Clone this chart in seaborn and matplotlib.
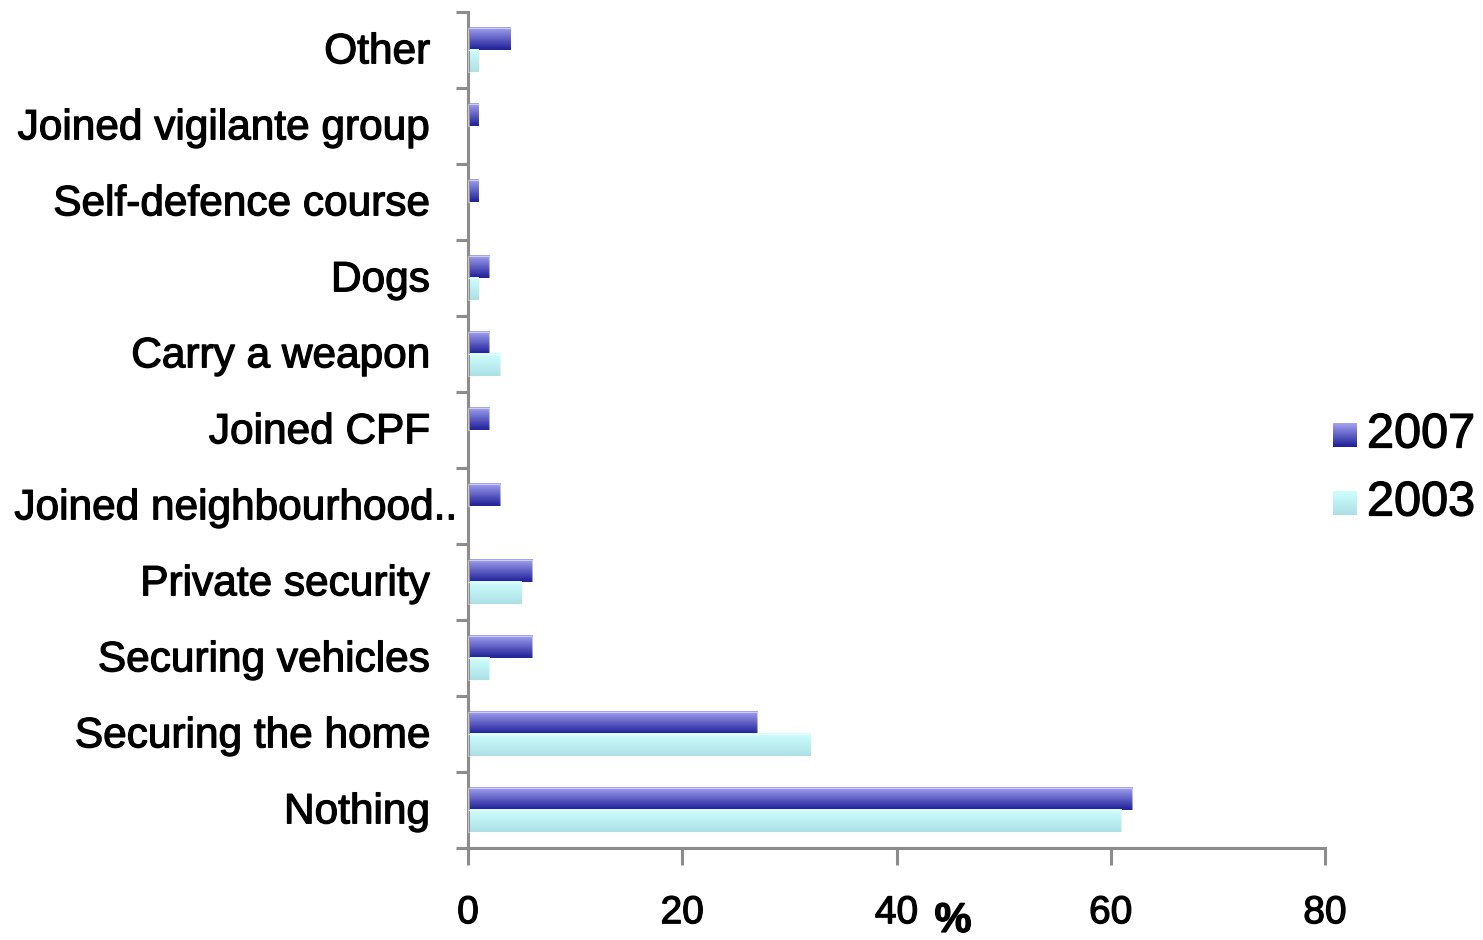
import matplotlib
matplotlib.use("Agg")
import matplotlib.pyplot as plt
import matplotlib.patheffects as pe
import matplotlib.transforms as mtransforms
import numpy as np
import pandas as pd
import seaborn as sns
from matplotlib.colors import LinearSegmentedColormap
from matplotlib.ticker import FixedLocator

categories = [
    "Other",
    "Joined vigilante group",
    "Self-defence course",
    "Dogs",
    "Carry a weapon",
    "Joined CPF",
    "Joined neighbourhood..",
    "Private security",
    "Securing vehicles",
    "Securing the home",
    "Nothing",
]
values_2007 = [4, 1, 1, 2, 2, 2, 3, 6, 6, 27, 62]
values_2003 = [1, 0, 0, 1, 3, 0, 0, 5, 2, 32, 61]
years = ["2007", "2003"]
x_ticks = [0, 20, 40, 60, 80]

df = pd.DataFrame({
    "category": categories * 2,
    "value": values_2007 + values_2003,
    "year": ["2007"] * len(categories) + ["2003"] * len(categories),
})

sns.set_theme(style="white")
plt.rcParams["font.family"] = ["Liberation Sans", "DejaVu Sans"]
plt.rcParams["text.color"] = "black"
plt.rcParams["xtick.color"] = "black"
plt.rcParams["ytick.color"] = "black"

heavy = [pe.withStroke(linewidth=0.9, foreground="black")]

fig = plt.figure(figsize=(14.83, 9.40), dpi=100)
ax = fig.add_axes([468 / 1483, 1 - 848 / 940, (1325 - 468) / 1483, (848 - 12) / 940])

grad = {
    "2007": ("#a3a3f2", "#1e1e98"),
    "2003": ("#ceffff", "#ade0e5"),
}
solid = {"2007": "#5a5ac8", "2003": "#bff0f2"}

sns.barplot(data=df, y="category", x="value", hue="year", order=categories,
            hue_order=years, palette=solid, orient="h", width=0.58, gap=0,
            ax=ax, legend=False, saturation=1)

ax.set_xlim(0, 80)
ax.set_ylim(len(categories) - 0.5, -0.5)

# Paint each bar with a vertical light-to-dark gradient
for container, yr in zip(ax.containers, years):
    cmap = LinearSegmentedColormap.from_list(yr, grad[yr])
    g = np.linspace(0, 1, 64).reshape(-1, 1)
    for bar in container:
        w = bar.get_width()
        if w <= 0:
            bar.set_visible(False)
            continue
        x0, y0, h = bar.get_x(), bar.get_y(), bar.get_height()
        ax.imshow(g, cmap=cmap, aspect="auto", origin="upper",
                  extent=(x0, x0 + w, y0 + h, y0), zorder=2,
                  interpolation="bilinear")
        bar.set_facecolor("none")
        bar.set_edgecolor((1, 1, 1, 0.5))
        bar.set_linewidth(0.8)
        bar.set_zorder(3)

ax.set_xlim(0, 80)
ax.set_ylim(len(categories) - 0.5, -0.5)

# Axis styling
spine_col = "#8c8c8c"
for side in ["top", "right"]:
    ax.spines[side].set_visible(False)
for side in ["left", "bottom"]:
    ax.spines[side].set_color(spine_col)
    ax.spines[side].set_linewidth(2.2)

ax.set_xticks(x_ticks)
ax.set_xticklabels([str(t) for t in x_ticks], fontsize=28)
ax.tick_params(axis="x", direction="out", length=12, width=2.2, color=spine_col,
               pad=22, bottom=True, labelcolor="black")

# Category labels: right-aligned left of the axis; the truncated one overhangs
ax.set_yticks(range(len(categories)))
ax.set_yticklabels([])
ax.tick_params(axis="y", which="major", length=0)
ax.yaxis.set_minor_locator(FixedLocator(np.arange(-0.5, len(categories), 1.0)))
ax.tick_params(axis="y", which="minor", direction="out", length=9, width=2.2,
               color=spine_col, left=True)
lab_trans = mtransforms.blended_transform_factory(fig.transFigure, ax.transData)
for i, cat in enumerate(categories):
    right = 457 if cat.endswith("..") else 430
    fig.text(right / 1483, i + 0.175, cat, transform=lab_trans, fontsize=30.5,
             ha="right", va="baseline", path_effects=heavy)

for lab in ax.get_xticklabels():
    lab.set_path_effects(heavy)
ax.set_xlabel("")
ax.set_ylabel("")
ax.grid(False)

fig.text(953 / 1483, 1 - 901 / 940, "%", fontsize=30, ha="center", va="top",
         fontweight="bold", path_effects=heavy)

# Legend with gradient swatches
leg_x = 1333 / 1483
sw_w = 24 / 1483
sw_h = 24 / 940
for i, yr in enumerate(years):
    yc = 1 - (435 + 68 * i) / 940
    cmap = LinearSegmentedColormap.from_list(yr + "_leg", grad[yr])
    sax = fig.add_axes([leg_x, yc - sw_h / 2, sw_w, sw_h])
    sax.imshow(np.linspace(0, 1, 32).reshape(-1, 1), cmap=cmap, aspect="auto",
               interpolation="bilinear")
    sax.axis("off")
    fig.text(1367 / 1483, yc, yr, fontsize=35, ha="left", va="center",
             path_effects=heavy)

fig.savefig("out.png", dpi=100, facecolor="white")
